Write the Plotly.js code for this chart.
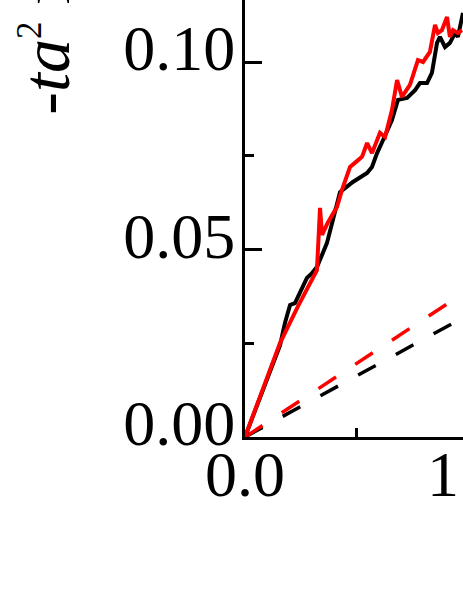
<!DOCTYPE html>
<html>
<head>
<meta charset="utf-8">
<script src="https://cdn.plot.ly/plotly-3.0.1.min.js"></script>
<style>
html, body { margin: 0; padding: 0; background: #ffffff; overflow: hidden; width: 463px; height: 599px; }
#plot { position: absolute; left: 0; top: -100px; width: 700px; height: 700px; }
</style>
</head>
<body>
<div id="plot"></div>
<script>
// Solid black curve
const blackX = [0, 0.158, 0.180, 0.203, 0.225, 0.257, 0.279, 0.302, 0.324, 0.369, 0.414, 0.428, 0.486, 0.518, 0.550, 0.572, 0.595, 0.622, 0.662, 0.689, 0.730, 0.766, 0.788, 0.820, 0.842, 0.865, 0.878, 0.901, 0.923, 0.946, 0.959, 0.982];
const blackY = [0, 0.0245, 0.0304, 0.0352, 0.0357, 0.0400, 0.0424, 0.0437, 0.0453, 0.0517, 0.0624, 0.0653, 0.0680, 0.0693, 0.0704, 0.0720, 0.0757, 0.0792, 0.0845, 0.0899, 0.0904, 0.0925, 0.0944, 0.0944, 0.0971, 0.1051, 0.1067, 0.1040, 0.1051, 0.1077, 0.1067, 0.1131];
// Solid red curve
const redX = [0, 0.158, 0.239, 0.324, 0.338, 0.347, 0.374, 0.414, 0.437, 0.473, 0.495, 0.527, 0.550, 0.572, 0.608, 0.631, 0.662, 0.685, 0.707, 0.743, 0.779, 0.802, 0.833, 0.856, 0.869, 0.887, 0.910, 0.923, 0.937, 0.959, 0.977];
const redY = [0, 0.0251, 0.0349, 0.0445, 0.0611, 0.0539, 0.0573, 0.0613, 0.0659, 0.0720, 0.0731, 0.0747, 0.0784, 0.0757, 0.0811, 0.0800, 0.0872, 0.0952, 0.0907, 0.0939, 0.1005, 0.1000, 0.1027, 0.1099, 0.1077, 0.1085, 0.1120, 0.1067, 0.1085, 0.1077, 0.1085];
// Dashed lines
const dashBlackX = [0, 1.0];
const dashBlackY = [0, 0.0324];
const dashRedX = [0, 1.0];
const dashRedY = [0, 0.0390];
// Ticks
const xTickVals = [0, 1];
const xTickText = ['0.0', '1.0'];
const yTickVals = [0, 0.05, 0.10];
const yTickText = ['0.00', '0.05', '0.10'];
const yTitle = '-<i>ta</i><span style="font-size:66px"><sup><span style="font-size:35px">2</span></sup></span> meV nm<sup>2</sup>';

const FONT = '"Liberation Serif", "DejaVu Serif", serif';

const traces = [
  {x: dashBlackX, y: dashBlackY, mode: 'lines', line: {color: '#000000', width: 3.5, dash: '20px,23px'}, hoverinfo: 'skip'},
  {x: dashRedX, y: dashRedY, mode: 'lines', line: {color: '#ff0000', width: 3.5, dash: '21px,23px'}, hoverinfo: 'skip'},
  {x: blackX, y: blackY, mode: 'lines', line: {color: '#000000', width: 4}, hoverinfo: 'skip'},
  {x: redX, y: redY, mode: 'lines', line: {color: '#ff0000', width: 4}, hoverinfo: 'skip'}
];

const layout = {
  width: 700, height: 700,
  margin: {l: 245, r: 122, t: 87, b: 163, pad: 0},
  paper_bgcolor: '#ffffff', plot_bgcolor: '#ffffff',
  showlegend: false,
  font: {family: FONT, size: 60, color: '#000000'},
  xaxis: {
    range: [0, 1.5], showgrid: false, zeroline: false,
    showline: true, linecolor: '#000000', linewidth: 3,
    ticks: 'inside', ticklen: 17, tickwidth: 3, tickcolor: '#000000',
    tickmode: 'array', tickvals: xTickVals, ticktext: xTickText,
    ticklabelstandoff: -21,
    tickfont: {family: FONT, size: 64, color: '#000000'},
    minor: {ticks: 'inside', ticklen: 9, tickwidth: 3, tickcolor: '#000000', dtick: 0.5, tick0: 0, showgrid: false}
  },
  yaxis: {
    range: [0, 0.12], showgrid: false, zeroline: false,
    showline: true, linecolor: '#000000', linewidth: 3,
    ticks: 'inside', ticklen: 17, tickwidth: 3, tickcolor: '#000000',
    tickmode: 'array', tickvals: yTickVals, ticktext: yTickText,
    ticklabelstandoff: -6, ticklabelshift: -14,
    tickfont: {family: FONT, size: 64, color: '#000000'},
    minor: {ticks: 'inside', ticklen: 9, tickwidth: 3, tickcolor: '#000000', dtick: 0.025, tick0: 0, showgrid: false}
  },
  annotations: [{
    text: yTitle, textangle: -90, showarrow: false,
    xref: 'paper', x: 0, xanchor: 'right', xshift: -159,
    yref: 'y', y: 0.0853, yanchor: 'bottom',
    font: {family: FONT, size: 68, color: '#000000'}
  }]
};

Plotly.newPlot('plot', traces, layout, {staticPlot: true, displayModeBar: false});
</script>
</body>
</html>
